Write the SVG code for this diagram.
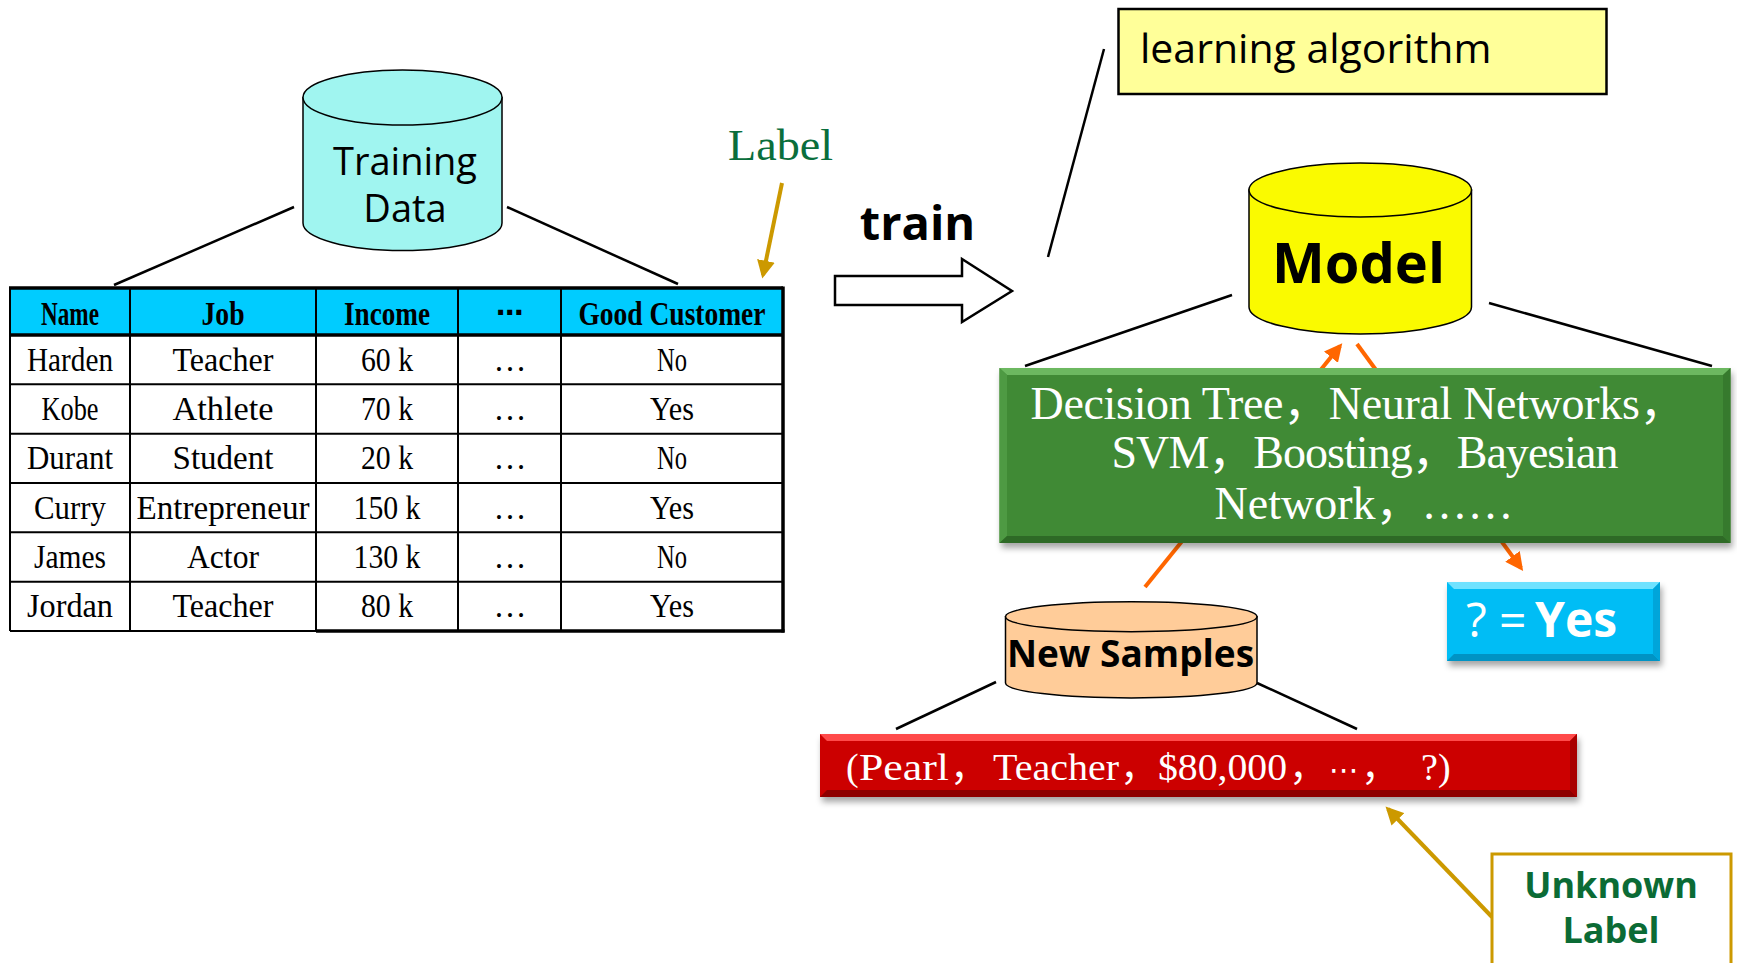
<svg xmlns="http://www.w3.org/2000/svg" width="1737" height="963" viewBox="0 0 1737 963">
<style>
.st{font-family:"Liberation Serif","Noto Sans CJK SC",serif;font-size:34px;text-anchor:middle;fill:#000}
.sth{font-family:"Liberation Serif","Noto Sans CJK SC",serif;font-size:33px;text-anchor:middle;font-weight:bold;fill:#000}
.tn{font-family:"Liberation Serif",serif;font-size:33px;text-anchor:middle;fill:#000}
.sans{font-family:"Open Sans","Noto Sans",sans-serif}
.ln{stroke:#000;stroke-width:2.5;fill:none}
.grid{stroke:#000;stroke-width:2;fill:none}
.gridb{stroke:#000;stroke-width:3.5;fill:none}
.or{stroke:#FF6600;stroke-width:4;fill:none}
.gd{stroke:#CC9900;stroke-width:4;fill:none}
.cyl{stroke:#000;stroke-width:1.5}
</style>
<defs>
<marker id="ahO" viewBox="0 0 10 10" refX="8" refY="5" markerWidth="4.5" markerHeight="4.5" orient="auto" markerUnits="strokeWidth"><path d="M0,0 L10,5 L0,10 z" fill="#FF6600"/></marker>
<marker id="ahG" viewBox="0 0 10 10" refX="8" refY="5" markerWidth="4.5" markerHeight="4.5" orient="auto" markerUnits="strokeWidth"><path d="M0,0 L10,5 L0,10 z" fill="#CC9900"/></marker>
<filter id="sh" x="-5%" y="-10%" width="110%" height="130%"><feDropShadow dx="2" dy="5" stdDeviation="3" flood-color="#000" flood-opacity="0.35"/></filter>
</defs>

<g id="connectors">
<line class="ln" x1="294" y1="207" x2="114" y2="285"/>
<line class="ln" x1="507" y1="207" x2="678" y2="284"/>
<line class="ln" x1="1104" y1="49" x2="1048" y2="257"/>
<line class="ln" x1="1232" y1="295" x2="1025" y2="366"/>
<line class="ln" x1="1489" y1="303" x2="1712" y2="366"/>
<line class="ln" x1="996" y1="682" x2="896" y2="729"/>
<line class="ln" x1="1257" y1="683" x2="1357" y2="729"/>
<line class="or" x1="1145" y1="587" x2="1340" y2="346" marker-end="url(#ahO)"/>
<line class="or" x1="1357" y1="344" x2="1521" y2="568" marker-end="url(#ahO)"/>
<line class="gd" x1="782" y1="183" x2="763" y2="275" marker-end="url(#ahG)"/>
<line class="gd" x1="1492" y1="917" x2="1388" y2="809" marker-end="url(#ahG)"/>
<polygon points="835,276 962,276 962,259 1012,291 962,322 962,305 835,305" fill="#fff" stroke="#000" stroke-width="2.5"/>
</g>

<g id="training-data">
<path class="cyl" fill="#A0F5F0" d="M303,97.5 V223 A99.5,27.5 0 0 0 502,223 V97.5 Z"/>
<ellipse class="cyl" fill="#A0F5F0" cx="402.5" cy="97.5" rx="99.5" ry="27.5"/>
<text class="sans" x="405" y="175" font-size="38" text-anchor="middle">Training</text>
<text class="sans" x="405" y="222" font-size="38" text-anchor="middle">Data</text>
</g>

<g id="table">
<rect x="10" y="288" width="773" height="47" fill="#00CCFF"/>
<g class="grid">
<line x1="10" y1="384.3" x2="783" y2="384.3"/>
<line x1="10" y1="433.7" x2="783" y2="433.7"/>
<line x1="10" y1="483" x2="783" y2="483"/>
<line x1="10" y1="532.3" x2="783" y2="532.3"/>
<line x1="10" y1="581.7" x2="783" y2="581.7"/>
<line x1="10" y1="631" x2="316" y2="631"/>
<line x1="10" y1="288" x2="10" y2="631"/>
<line x1="130" y1="288" x2="130" y2="631"/>
<line x1="316" y1="288" x2="316" y2="631"/>
<line x1="458" y1="288" x2="458" y2="631"/>
<line x1="561" y1="288" x2="561" y2="631"/>
</g>
<g class="gridb">
<line x1="9" y1="288" x2="783" y2="288"/>
<line x1="9" y1="335" x2="783" y2="335"/>
<line x1="783" y1="286.5" x2="783" y2="632.5"/>
<line x1="316" y1="631" x2="784.5" y2="631"/>
</g>
<text class="sth" x="70" y="325" textLength="58" lengthAdjust="spacingAndGlyphs">Name</text>
<text class="sth" x="223" y="325" textLength="43" lengthAdjust="spacingAndGlyphs">Job</text>
<text class="sth" x="387" y="325" textLength="86" lengthAdjust="spacingAndGlyphs">Income</text>
<text x="510" y="322" font-family="DejaVu Sans,sans-serif" font-weight="bold" font-size="28" text-anchor="middle">⋯</text>
<text class="sth" x="672" y="325" textLength="187" lengthAdjust="spacingAndGlyphs">Good Customer</text>

<text class="st" x="70" y="370.7" textLength="86" lengthAdjust="spacingAndGlyphs">Harden</text>
<text class="st" x="223" y="370.7" textLength="101" lengthAdjust="spacingAndGlyphs">Teacher</text>
<text class="tn" x="387" y="370.7" textLength="52" lengthAdjust="spacingAndGlyphs">60 k</text>
<text class="tn" x="510" y="370.7" font-size="30">…</text>
<text class="st" x="672" y="370.7" textLength="30" lengthAdjust="spacingAndGlyphs">No</text>

<text class="st" x="70" y="420" textLength="57" lengthAdjust="spacingAndGlyphs">Kobe</text>
<text class="st" x="223" y="420" textLength="101" lengthAdjust="spacingAndGlyphs">Athlete</text>
<text class="tn" x="387" y="420" textLength="52" lengthAdjust="spacingAndGlyphs">70 k</text>
<text class="tn" x="510" y="420" font-size="30">…</text>
<text class="st" x="672" y="420" textLength="44" lengthAdjust="spacingAndGlyphs">Yes</text>

<text class="st" x="70" y="469.3" textLength="86" lengthAdjust="spacingAndGlyphs">Durant</text>
<text class="st" x="223" y="469.3" textLength="101" lengthAdjust="spacingAndGlyphs">Student</text>
<text class="tn" x="387" y="469.3" textLength="52" lengthAdjust="spacingAndGlyphs">20 k</text>
<text class="tn" x="510" y="469.3" font-size="30">…</text>
<text class="st" x="672" y="469.3" textLength="30" lengthAdjust="spacingAndGlyphs">No</text>

<text class="st" x="70" y="518.7" textLength="72" lengthAdjust="spacingAndGlyphs">Curry</text>
<text class="st" x="223" y="518.7" textLength="173" lengthAdjust="spacingAndGlyphs">Entrepreneur</text>
<text class="tn" x="387" y="518.7" textLength="67" lengthAdjust="spacingAndGlyphs">150 k</text>
<text class="tn" x="510" y="518.7" font-size="30">…</text>
<text class="st" x="672" y="518.7" textLength="44" lengthAdjust="spacingAndGlyphs">Yes</text>

<text class="st" x="70" y="568" textLength="72" lengthAdjust="spacingAndGlyphs">James</text>
<text class="st" x="223" y="568" textLength="72" lengthAdjust="spacingAndGlyphs">Actor</text>
<text class="tn" x="387" y="568" textLength="67" lengthAdjust="spacingAndGlyphs">130 k</text>
<text class="tn" x="510" y="568" font-size="30">…</text>
<text class="st" x="672" y="568" textLength="30" lengthAdjust="spacingAndGlyphs">No</text>

<text class="st" x="70" y="617.3" textLength="86" lengthAdjust="spacingAndGlyphs">Jordan</text>
<text class="st" x="223" y="617.3" textLength="101" lengthAdjust="spacingAndGlyphs">Teacher</text>
<text class="tn" x="387" y="617.3" textLength="52" lengthAdjust="spacingAndGlyphs">80 k</text>
<text class="tn" x="510" y="617.3" font-size="30">…</text>
<text class="st" x="672" y="617.3" textLength="44" lengthAdjust="spacingAndGlyphs">Yes</text>
</g>

<g id="label-text">
<text x="780.5" y="160" font-family="Liberation Serif,serif" font-size="44" fill="#0A6E3C" text-anchor="middle" textLength="105" lengthAdjust="spacingAndGlyphs">Label</text>
</g>

<g id="train-text">
<text class="sans" x="917.5" y="240" font-size="47" font-weight="bold" text-anchor="middle">train</text>
</g>

<g id="learning-algorithm">
<rect x="1118.5" y="9" width="488" height="85" fill="#FFFF99" stroke="#000" stroke-width="2.5"/>
<text class="sans" x="1140" y="63" font-size="41">learning algorithm</text>
</g>

<g id="model">
<path class="cyl" fill="#FAFA00" d="M1249,190 V307 A111.25,27 0 0 0 1471.5,307 V190 Z"/>
<ellipse class="cyl" fill="#FAFA00" cx="1360.25" cy="190" rx="111.25" ry="27"/>
<text class="sans" x="1358.5" y="283" font-size="56" font-weight="bold" text-anchor="middle">Model</text>
</g>

<g id="algorithms">
<g filter="url(#sh)">
<rect x="999.5" y="368" width="731" height="175" fill="#408A35"/>
</g>
<polygon points="999.5,368 1730.5,368 1723,375 1007,375" fill="#6CB860"/>
<polygon points="999.5,368 1007,375 1007,536 999.5,543" fill="#4E9A43"/>
<polygon points="999.5,543 1007,536 1723,536 1730.5,543" fill="#2E6A26"/>
<polygon points="1730.5,368 1723,375 1723,536 1730.5,543" fill="#367A2D"/>
<g font-family="Liberation Serif,Noto Sans CJK SC,serif" font-size="46" fill="#fff" text-anchor="middle">
<text x="1358" y="419" textLength="655" lengthAdjust="spacing">Decision Tree，Neural Networks，</text>
<text x="1365" y="468" textLength="507" lengthAdjust="spacing">SVM，Boosting，Bayesian</text>
<text x="1364" y="519">Network，……</text>
</g>
</g>

<g id="result">
<g filter="url(#sh)">
<rect x="1447" y="582" width="213" height="79" fill="#05BDF5"/>
</g>
<polygon points="1447,582 1660,582 1653,589 1454,589" fill="#6FE2FF"/>
<polygon points="1447,661 1454,654 1653,654 1660,661" fill="#0093C4"/>
<polygon points="1660,582 1653,589 1653,654 1660,661" fill="#00A5DA"/>
<text class="sans" y="637" font-size="48" fill="#fff"><tspan x="1466">?</tspan><tspan x="1499">=</tspan><tspan x="1535" font-weight="bold">Yes</tspan></text>
</g>

<g id="new-samples">
<path class="cyl" fill="#FFCC99" d="M1005.5,616.7 V683 A125.75,15 0 0 0 1257,683 V616.7 Z"/>
<ellipse class="cyl" fill="#FFCC99" cx="1131.25" cy="616.7" rx="125.75" ry="15"/>
<text class="sans" x="1130.5" y="667" font-size="37" font-weight="bold" text-anchor="middle">New Samples</text>
</g>

<g id="sample">
<g filter="url(#sh)">
<rect x="820" y="734" width="757" height="63" fill="#CC0606"/>
</g>
<polygon points="820,734 1577,734 1570,741 827,741" fill="#FF4A4A"/>
<polygon points="820,797 827,790 1570,790 1577,797" fill="#8E0000"/>
<polygon points="1577,734 1570,741 1570,790 1577,797" fill="#A80000"/>
<text y="780" font-family="Liberation Serif,Noto Sans CJK SC,serif" font-size="38" fill="#fff"><tspan x="846">(</tspan><tspan x="859" textLength="90" lengthAdjust="spacingAndGlyphs">Pearl</tspan><tspan x="950">，</tspan><tspan x="993" textLength="126" lengthAdjust="spacingAndGlyphs">Teacher</tspan><tspan x="1120">，</tspan><tspan x="1158" textLength="129" lengthAdjust="spacingAndGlyphs">$80,000</tspan><tspan x="1289">，</tspan><tspan x="1329" font-family="DejaVu Sans,sans-serif" font-size="30">⋯</tspan><tspan x="1361">，</tspan><tspan x="1421">?</tspan><tspan x="1438">)</tspan></text>
</g>

<g id="unknown-label">
<rect x="1492" y="854" width="239" height="130" fill="#fff" stroke="#CC9900" stroke-width="3"/>
<text class="sans" x="1611" y="898" font-size="36" font-weight="bold" fill="#0B6B35" text-anchor="middle">Unknown</text>
<text class="sans" x="1611" y="943" font-size="36" font-weight="bold" fill="#0B6B35" text-anchor="middle">Label</text>
</g>
</svg>
